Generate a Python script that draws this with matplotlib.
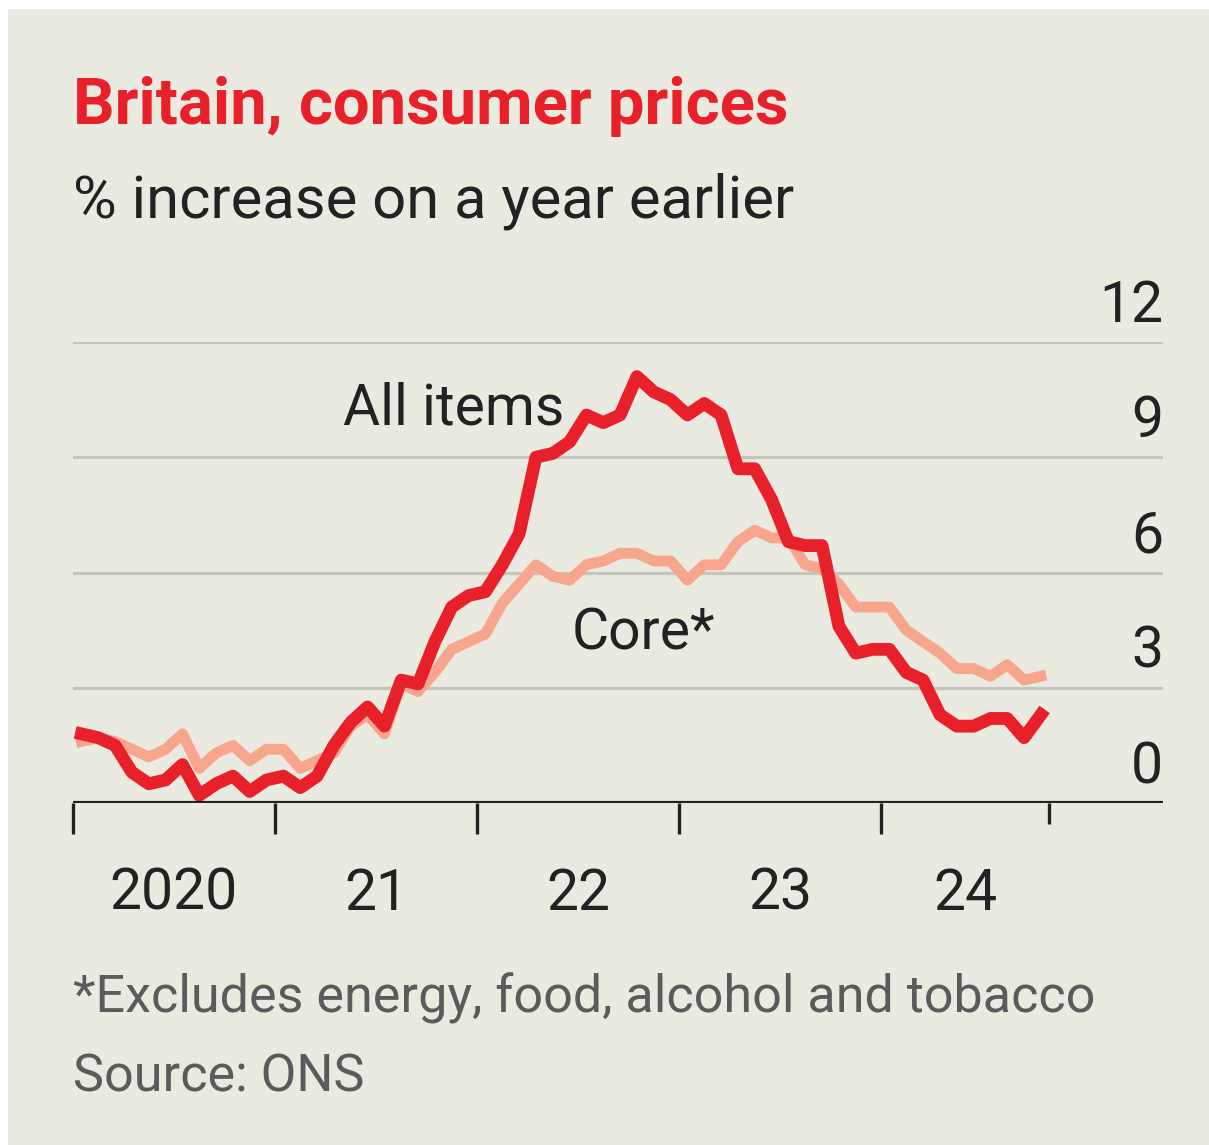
import matplotlib
matplotlib.use("Agg")
import matplotlib.pyplot as plt
from matplotlib import font_manager
from matplotlib.transforms import offset_copy
import numpy as np

# pick a condensed font if there is one
names = {f.name for f in font_manager.fontManager.ttflist}
FONT = 'Liberation Sans Narrow' if 'Liberation Sans Narrow' in names else 'Roboto'
plt.rcParams['font.family'] = [FONT, 'DejaVu Sans']

BG = '#ebeae0'
RED = '#e8202a'
CORE = '#f7a68d'
DARK = '#222222'
GREY = '#5b5b5b'
GRID = '#c5c5bd'

# monthly CPI, Jan 2020 - Oct 2024, % change on a year earlier
all_items = [1.8, 1.7, 1.5, 0.8, 0.5, 0.6, 1.0, 0.2, 0.5, 0.7, 0.3, 0.6,
             0.7, 0.4, 0.7, 1.5, 2.1, 2.5, 2.0, 3.2, 3.1, 4.2, 5.1, 5.4,
             5.5, 6.2, 7.0, 9.0, 9.1, 9.4, 10.1, 9.9, 10.1, 11.1, 10.7, 10.5,
             10.1, 10.4, 10.1, 8.7, 8.7, 7.9, 6.8, 6.7, 6.7, 4.6, 3.9, 4.0,
             4.0, 3.4, 3.2, 2.3, 2.0, 2.0, 2.2, 2.2, 1.7, 2.3]
core = [1.6, 1.7, 1.6, 1.4, 1.2, 1.4, 1.8, 0.9, 1.3, 1.5, 1.1, 1.4,
        1.4, 0.9, 1.1, 1.3, 2.0, 2.3, 1.8, 3.1, 2.9, 3.4, 4.0, 4.2,
        4.4, 5.2, 5.7, 6.2, 5.9, 5.8, 6.2, 6.3, 6.5, 6.5, 6.3, 6.3,
        5.8, 6.2, 6.2, 6.8, 7.1, 6.9, 6.9, 6.2, 6.1, 5.7, 5.1, 5.1,
        5.1, 4.5, 4.2, 3.9, 3.5, 3.5, 3.3, 3.6, 3.2, 3.3]
start_year = 2020
year_labels = ['2020', '21', '22', '23', '24']
y_ticks = [0, 3, 6, 9, 12]

# mid-month positions in fractional years
x = start_year + (np.arange(len(all_items)) + 0.5) / 12
end_x = start_year + len(all_items) / 12  # last tick, start of Nov 2024

W, H = 1209, 1145
fig = plt.figure(figsize=(W / 100, H / 100), dpi=100, facecolor='white')
fig.patches.append(plt.Rectangle((8 / W, 0), 1, 1 - 9 / H, transform=fig.transFigure,
                                 facecolor=BG, edgecolor='none', zorder=-10))

ax = fig.add_axes([73 / W, (H - 803) / H, (1163 - 73) / W, (803 - 342) / H])
ax.set_facecolor('none')
ax.set_zorder(5)
ax.set_xlim(start_year, start_year + (1163 - 73) / 202)
ax.set_ylim(0, 12)
for s in ax.spines.values():
    s.set_visible(False)
ax.set_xticks([])
ax.set_yticks([])

# gridlines and baseline
for v in y_ticks[1:]:
    ax.axhline(v, color=GRID, lw=2.3, zorder=1)
ax.axhline(0, color=DARK, lw=3.0, zorder=5, solid_capstyle='butt')

ax.plot(x, core, color=CORE, lw=7.8, solid_joinstyle='round', zorder=2, clip_on=False)
ax.plot(x, all_items, color=RED, lw=9.2, solid_joinstyle='round', zorder=3, clip_on=False)

# x ticks below baseline
xt = ax.get_xaxis_transform()
tick_pos = list(range(start_year, start_year + len(year_labels))) + [end_x]
for i, t in enumerate(tick_pos):
    length = 0.068 if i < len(year_labels) else 0.045
    ax.plot([t, t], [0, -length], transform=xt, color=DARK, lw=2.4,
            clip_on=False, zorder=5, solid_capstyle='butt')

# year labels centred between ticks
lab_tr = offset_copy(xt, fig=fig, y=-107, units='dots')
for i, lab in enumerate(year_labels):
    mid = (tick_pos[i] + tick_pos[i + 1]) / 2
    ax.text(mid, 0, lab, transform=lab_tr, ha='center', va='baseline',
            fontsize=41, color=DARK)

# y labels on the right, sitting above the gridlines
yt = offset_copy(ax.get_yaxis_transform(), fig=fig, y=20, units='dots')
for v in y_ticks:
    ax.text(1.0, v, str(v), transform=yt, ha='right', va='baseline',
            fontsize=41, color=DARK)

# series labels
ax.text(2021.337, 9.86, 'All items', fontsize=41, color=DARK, va='baseline')
ax.text(2022.47, 3.99, 'Core*', fontsize=41, color=DARK, va='baseline')

# titles and notes
fig.text(73 / W, 1 - 124 / H, 'Britain, consumer prices', color=RED,
         fontsize=47, fontweight='bold', va='baseline')
fig.text(73 / W, 1 - 217 / H, '% increase on a year earlier', color=DARK,
         fontsize=43, va='baseline')
fig.text(73 / W, 1 - 1013 / H, '*Excludes energy, food, alcohol and tobacco',
         color=GREY, fontsize=37.5, va='baseline')
fig.text(73 / W, 1 - 1092 / H, 'Source: ONS', color=GREY, fontsize=37.5, va='baseline')

fig.savefig('out.png', dpi=100, facecolor=fig.get_facecolor())
